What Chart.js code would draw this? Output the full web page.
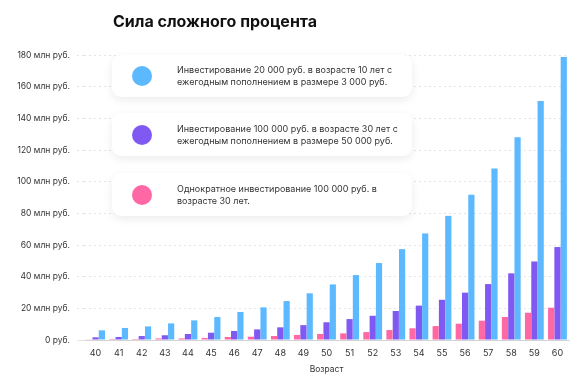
<!DOCTYPE html>
<html>
<head>
<meta charset="utf-8">
<script src="https://cdn.jsdelivr.net/npm/chart.js@4"></script>
<style>
  body { margin: 0; background: #fff; font-family: Inter, "Noto Sans", sans-serif; }
  #wrap { position: relative; width: 580px; height: 389px; }
  #title { position: absolute; left: 113px; top: 11px; font-size: 16px; font-weight: 700; color: #111; }
  .item { position: absolute; left: 112px; width: 300px; height: 42px; background: #fff; border-radius: 9px;
          box-shadow: 0 3px 10px rgba(0,0,0,0.08); display: flex; align-items: center; }
  .dot { width: 20px; height: 20px; border-radius: 50%; margin-left: 20px; margin-right: 25px; flex: none; }
  .txt { font-size: 9px; line-height: 12px; color: #333; }
</style>
</head>
<body>
<div id="wrap">
  <canvas id="chart" width="580" height="389"></canvas>
  <div id="title">Сила сложного процента</div>
  <div id="legend"></div>
</div>
<script>
// Возраст
const ages = ['40','41','42','43','44','45','46','47','48','49','50','51','52','53','54','55','56','57','58','59','60'];

// значения в млн руб.
const seriesFrom10 = [6.1, 7.6, 8.6, 10.5, 12.4, 14.5, 17.7, 20.6, 24.6, 29.5, 35.1, 41.0, 48.6, 57.4, 67.3, 78.4, 91.7, 108.3, 128.1, 151.0, 178.8];
const seriesFrom30 = [1.7, 1.9, 2.5, 3.0, 3.8, 4.6, 5.7, 6.7, 8.0, 9.4, 11.2, 13.2, 15.3, 18.3, 21.7, 25.4, 29.9, 35.3, 42.1, 49.6, 58.7];
const seriesOnce = [0.4, 0.6, 0.6, 1.0, 1.0, 1.3, 1.9, 2.1, 2.5, 3.2, 3.8, 4.2, 5.0, 6.3, 7.4, 8.8, 10.3, 12.2, 14.5, 17.2, 20.4];

const labelFrom10 = 'Инвестирование 20 000 руб. в возрасте 10 лет с ежегодным пополнением в размере 3 000 руб.';
const labelFrom30 = 'Инвестирование 100 000 руб. в возрасте 30 лет с ежегодным пополнением в размере 50 000 руб.';
const labelOnce = 'Однократное инвестирование 100 000 руб. в возрасте 30 лет.';

const yMax = 180;
const yStep = 20;

const font = 'Inter, "Noto Sans", sans-serif';

const datasets = [
  { label: labelOnce, data: seriesOnce, backgroundColor: '#ff67a5' },
  { label: labelFrom30, data: seriesFrom30, backgroundColor: '#8059f2' },
  { label: labelFrom10, data: seriesFrom10, backgroundColor: '#5cb8ff' }
];

// легенда в карточках
const legendTops = [55, 113, 173];
const legend = document.getElementById('legend');
datasets.slice().reverse().forEach((ds, i) => {
  const item = document.createElement('div');
  item.className = 'item';
  item.style.top = legendTops[i] + 'px';
  item.style.height = (i === 0 ? 42 : 43) + 'px';
  item.innerHTML = `<div class="dot" style="background:${ds.backgroundColor}"></div><div class="txt">${ds.label}</div>`;
  legend.appendChild(item);
});

const ctx = document.getElementById('chart').getContext('2d');
new Chart(ctx, {
  type: 'bar',
  data: {
    labels: ages,
    datasets: datasets.map(ds => Object.assign({ barPercentage: 0.98, categoryPercentage: 0.82 }, ds))
  },
  options: {
    responsive: false,
    animation: false,
    layout: { padding: { top: 55, right: 11, left: 0, bottom: 0 } },
    plugins: { legend: { display: false }, tooltip: { enabled: false } },
    scales: {
      x: {
        grid: { display: false, drawTicks: false },
        border: { display: true, color: '#d4d4d4', width: 1 },
        ticks: { padding: 8, color: '#333', font: { family: font, size: 9 } },
        title: { display: true, text: 'Возраст', color: '#333', font: { family: font, size: 8.5 }, padding: { top: 0, bottom: 14 } },
        afterFit: scale => { scale.width = scale.width; scale.height = 49; }
      },
      y: {
        min: 0,
        max: yMax,
        grid: {
          color: '#e4e4e4',
          drawTicks: true,
          tickLength: 7,
          tickBorderDash: c => (c.tick && c.tick.value === 0 ? [] : [2, 3])
        },
        border: { display: false, dash: [2, 3] },
        ticks: {
          stepSize: yStep,
          padding: 7,
          color: '#333',
          font: { family: font, size: 8.5 },
          callback: v => (v === 0 ? '0 руб.' : v + ' млн руб.')
        },
        afterFit: scale => { scale.width = 84; }
      }
    }
  }
});
</script>
</body>
</html>
